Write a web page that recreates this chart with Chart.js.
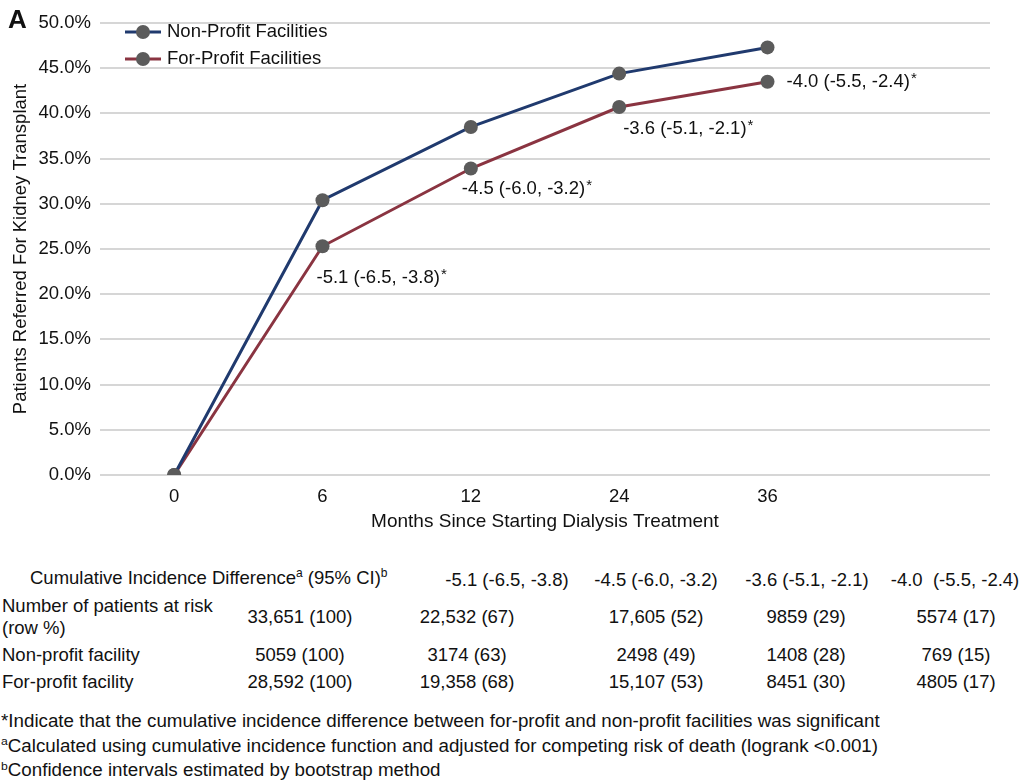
<!DOCTYPE html>
<html>
<head>
<meta charset="utf-8">
<script src="https://cdn.jsdelivr.net/npm/chart.js@4.4.1/dist/chart.umd.min.js"></script>
<style>
    body { margin: 0; background: #fff; font-family: "Liberation Sans", Arial, sans-serif; color: #111; }
    #wrap { position: relative; width: 1030px; height: 782px; overflow: hidden; }
    #grafico { position: absolute; left: 0; top: 0; }
    .letra { position: absolute; left: 8px; top: 4px; font-size: 26px; font-weight: bold; }
    .cel { position: absolute; font-size: 18.5px; white-space: nowrap; line-height: 19px; }
    .nota { position: absolute; left: 1px; font-size: 17.5px; white-space: nowrap; line-height: 20px; transform-origin: 0 50%; }
    sup { font-size: 0.65em; vertical-align: 0; position: relative; top: -0.55em; }
</style>
</head>
<body>
<div id="wrap">
    <canvas id="grafico" width="1030" height="545"></canvas>
    <div class="letra">A</div>
    <div id="tabela"></div>
</div>
<script>
// dados do grafico
const meses = ['0', '6', '12', '24', '36', ''];
const naoLucrativo = [0, 30.4, 38.5, 44.4, 47.3];
const lucrativo = [0, 25.3, 33.9, 40.7, 43.5];
const rotulosDiferenca = [null, '-5.1 (-6.5, -3.8)', '-4.5 (-6.0, -3.2)', '-3.6 (-5.1, -2.1)', '-4.0 (-5.5, -2.4)'];

// dados da tabela
const diferencaIC = ['-5.1 (-6.5, -3.8)', '-4.5 (-6.0, -3.2)', '-3.6 (-5.1, -2.1)', '-4.0&nbsp; (-5.5, -2.4)'];
const emRisco = ['33,651 (100)', '22,532 (67)', '17,605 (52)', '9859 (29)', '5574 (17)'];
const naoLucrativoRisco = ['5059 (100)', '3174 (63)', '2498 (49)', '1408 (28)', '769 (15)'];
const lucrativoRisco = ['28,592 (100)', '19,358 (68)', '15,107 (53)', '8451 (30)', '4805 (17)'];

const corAzul = '#203a6e';
const corVinho = '#8a3441';
const fonte = '"Liberation Sans", Arial, sans-serif';

// legenda desenhada dentro da area do grafico
const legendaPlugin = {
    id: 'legendaLinha',
    afterDraw(chart) {
        const ctx = chart.ctx;
        const area = chart.chartArea;
        const itens = [
            { texto: 'Non-Profit Facilities', cor: corAzul },
            { texto: 'For-Profit Facilities', cor: corVinho }
        ];
        ctx.save();
        itens.forEach((item, i) => {
            const y = area.top + 9 + i * 27;
            const x0 = area.left + 25;
            ctx.strokeStyle = item.cor;
            ctx.lineWidth = 3;
            ctx.beginPath();
            ctx.moveTo(x0, y);
            ctx.lineTo(x0 + 36, y);
            ctx.stroke();
            ctx.fillStyle = '#5b5b5b';
            ctx.beginPath();
            ctx.arc(x0 + 18, y, 7, 0, Math.PI * 2);
            ctx.fill();
            ctx.fillStyle = '#111';
            ctx.font = '18.5px ' + fonte;
            ctx.textBaseline = 'middle';
            ctx.fillText(item.texto, x0 + 42, y);
        });
        ctx.restore();
    }
};

// rotulos das diferencas ao lado dos pontos for-profit
const deslocamentos = [null, [-6, 32], [-9, 20], [4, 22], [19, 0]];
const rotulosPlugin = {
    id: 'rotulosPontos',
    afterDatasetsDraw(chart) {
        const ctx = chart.ctx;
        const meta = chart.getDatasetMeta(1);
        ctx.save();
        ctx.textBaseline = 'middle';
        ctx.fillStyle = '#111';
        rotulosDiferenca.forEach((txt, i) => {
            if (!txt) return;
            const p = meta.data[i];
            const x = p.x + deslocamentos[i][0];
            const y = p.y + deslocamentos[i][1];
            ctx.font = '18.5px ' + fonte;
            ctx.fillText(txt, x, y);
            const w = ctx.measureText(txt).width;
            ctx.font = '15px ' + fonte;
            ctx.fillText('*', x + w + 1, y - 3);
        });
        ctx.restore();
    }
};

function criarGrafico() {
    const ctx = document.getElementById('grafico').getContext('2d');
    new Chart(ctx, {
        type: 'line',
        data: {
            labels: meses,
            datasets: [
                {
                    label: 'Non-Profit Facilities',
                    data: naoLucrativo,
                    borderColor: corAzul,
                    borderWidth: 3,
                    pointBackgroundColor: '#5b5b5b',
                    pointBorderWidth: 0,
                    pointRadius: 7,
                    tension: 0
                },
                {
                    label: 'For-Profit Facilities',
                    data: lucrativo,
                    borderColor: corVinho,
                    borderWidth: 3,
                    pointBackgroundColor: '#5b5b5b',
                    pointBorderWidth: 0,
                    pointRadius: 7,
                    tension: 0
                }
            ]
        },
        options: {
            responsive: false,
            animation: false,
            layout: { padding: { top: 23, right: 40, left: 6, bottom: 0 } },
            plugins: {
                legend: { display: false },
                tooltip: { enabled: false }
            },
            scales: {
                x: {
                    offset: true,
                    grid: { display: false },
                    border: { display: false },
                    ticks: { color: '#111', font: { size: 18.5, family: fonte }, padding: 3 },
                    title: {
                        display: true,
                        text: 'Months Since Starting Dialysis Treatment',
                        color: '#111',
                        font: { size: 19, family: fonte },
                        padding: { top: 4, bottom: 12 }
                    },
                    afterFit(scale) { scale.height = 70; }
                },
                y: {
                    min: 0,
                    max: 50,
                    border: { display: false },
                    grid: { color: '#d6d6d6', lineWidth: 2, drawTicks: false },
                    ticks: {
                        stepSize: 5,
                        color: '#111',
                        padding: 9,
                        font: { size: 18.5, family: fonte },
                        callback: function (value) {
                            return value.toFixed(1) + '%';
                        }
                    },
                    title: {
                        display: true,
                        text: 'Patients Referred For Kidney Transplant',
                        color: '#111',
                        font: { size: 18.5, family: fonte },
                        padding: { top: 4, bottom: 4 }
                    },
                    afterFit(scale) { scale.width = 94; }
                }
            }
        },
        plugins: [legendaPlugin, rotulosPlugin]
    });
}

// tabela de pacientes em risco
function criarTabela() {
    const tab = document.getElementById('tabela');
    const colunas = [300, 467, 656, 806, 956];
    const colunasIC = [507, 656, 807, 955];
    let html = '';
    function cel(txt, x, y, centro) {
        const tr = centro ? 'translate(-50%, -50%)' : 'translate(0, -50%)';
        return `<div class="cel" style="left:${x}px; top:${y}px; transform:${tr}">${txt}</div>`;
    }
    html += cel('Cumulative Incidence Difference<sup>a</sup> (95% CI)<sup>b</sup>', 30, 579, false);
    diferencaIC.forEach((t, i) => { html += cel(t, colunasIC[i], 579, true); });
    html += cel('Number of patients at risk', 2, 605, false);
    html += cel('(row %)', 2, 627, false);
    emRisco.forEach((t, i) => { html += cel(t, colunas[i], 616, true); });
    html += cel('Non-profit facility', 2, 654, false);
    naoLucrativoRisco.forEach((t, i) => { html += cel(t, colunas[i], 654, true); });
    html += cel('For-profit facility', 2, 681, false);
    lucrativoRisco.forEach((t, i) => { html += cel(t, colunas[i], 681, true); });

    const notas = [
        '*Indicate that the cumulative incidence difference between for-profit and non-profit facilities was significant',
        '<sup>a</sup>Calculated using cumulative incidence function and adjusted for competing risk of death (logrank &lt;0.001)',
        '<sup>b</sup>Confidence intervals estimated by bootstrap method'
    ];
    notas.forEach((t, i) => {
        html += `<div class="nota" id="nota${i}" style="top:${711 + i * 24.5}px">${t}</div>`;
    });
    tab.innerHTML = html;

    // ajusta a largura das notas
    const base = document.getElementById('nota0');
    const fator = 879 / base.offsetWidth;
    notas.forEach((t, i) => {
        document.getElementById('nota' + i).style.transform = `scaleX(${fator})`;
    });
}

criarGrafico();
criarTabela();
</script>
</body>
</html>
